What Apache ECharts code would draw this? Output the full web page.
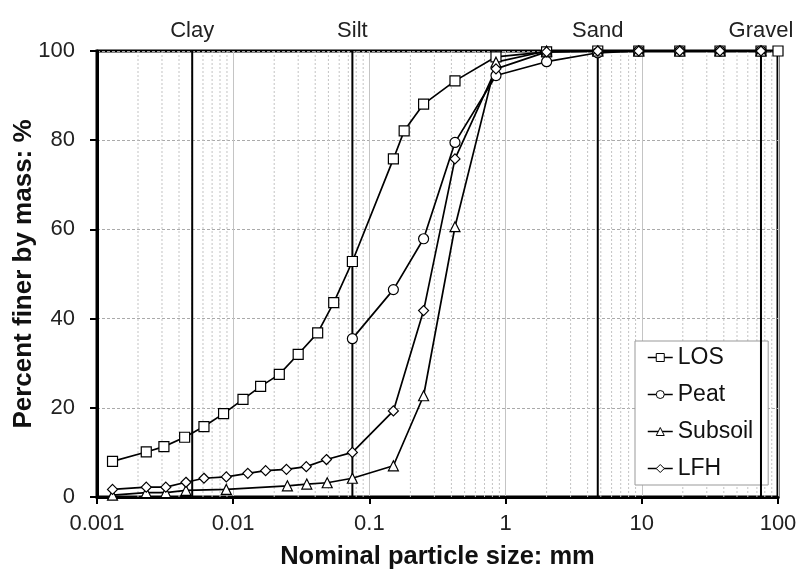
<!DOCTYPE html>
<html>
<head>
<meta charset="utf-8">
<script src="https://cdn.jsdelivr.net/npm/echarts@6/dist/echarts.min.js"></script>
<style>html,body{margin:0;padding:0;background:#fff}#c{width:799px;height:572px}</style>
</head>
<body>
<div id="c"></div>
<script>
// ---- data ----
const xTickLabels = ['0.001', '0.01', '0.1', '1', '10', '100'];
const yTickLabels = ['0', '20', '40', '60', '80', '100'];

const losSize = [0.0013, 0.0023, 0.0031, 0.0044, 0.0061, 0.0085, 0.0118, 0.0159, 0.0218, 0.030, 0.0417, 0.0547, 0.075, 0.15, 0.18, 0.25, 0.425, 0.85, 2, 4.75, 9.5, 19, 37.5, 75, 100];
const losPct  = [8.0, 10.1, 11.3, 13.4, 15.8, 18.7, 21.9, 24.8, 27.5, 32.0, 36.8, 43.6, 52.8, 75.8, 82.1, 88.1, 93.3, 98.7, 99.8, 100, 100, 100, 100, 100, 100];

const peatSize = [0.075, 0.15, 0.25, 0.425, 0.85, 2, 4.75, 9.5, 19, 37.5, 75];
const peatPct  = [35.5, 46.5, 57.9, 79.5, 94.5, 97.6, 99.6, 100, 100, 100, 100];

const subsoilSize = [0.0013, 0.0023, 0.0032, 0.0045, 0.0089, 0.025, 0.0347, 0.049, 0.075, 0.15, 0.25, 0.425, 0.85, 2, 4.75, 9.5, 19, 37.5, 75];
const subsoilPct  = [0.4, 1.0, 1.0, 1.5, 1.7, 2.5, 2.9, 3.2, 4.2, 7.0, 22.7, 60.6, 97.5, 100, 100, 100, 100, 100, 100];

const lfhSize = [0.0013, 0.0023, 0.0032, 0.0045, 0.0061, 0.0089, 0.0128, 0.0173, 0.0246, 0.0344, 0.0484, 0.075, 0.15, 0.25, 0.425, 0.85, 2, 4.75, 9.5, 19, 37.5, 75];
const lfhPct  = [1.7, 2.2, 2.2, 3.3, 4.2, 4.5, 5.3, 5.9, 6.2, 6.8, 8.4, 10.0, 19.3, 41.8, 75.8, 96.0, 99.8, 100, 100, 100, 100, 100];

const boundarySize = [0.005, 0.075, 4.75, 75];
const boundaryName = ['Clay', 'Silt', 'Sand', 'Gravel'];

const seriesNames = ['LOS', 'Peat', 'Subsoil', 'LFH'];
const seriesSymbols = ['rect', 'circle', 'triangle', 'diamond'];

// ---- build ----
const FONT = '"Liberation Sans", Arial, sans-serif';
const Y_MIN = 0, Y_MAX = 100;
const zip = (a, b) => a.map((v, i) => [v, b[i]]);
const dataSets = [zip(losSize, losPct), zip(peatSize, peatPct), zip(subsoilSize, subsoilPct), zip(lfhSize, lfhPct)];

// minor log grid positions (2..9 within each decade)
const minorX = [];
for (let e = -3; e < 2; e++) {
  for (let m = 2; m <= 9; m++) minorX.push([m * Math.pow(10, e), Y_MIN]);
}

const series = dataSets.map((d, i) => ({
  name: seriesNames[i],
  type: 'line',
  data: d,
  symbol: seriesSymbols[i],
  symbolSize: 10,
  showAllSymbol: true,
  z: 5,
  itemStyle: { color: '#fff', borderColor: '#000', borderWidth: 1.2 },
  lineStyle: { color: '#000', width: 1.7 },
  emphasis: { disabled: true },
  animation: false
}));

series.push({
  name: 'minorGrid', type: 'custom', silent: true, z: 1, animation: false,
  data: minorX,
  encode: { x: 0, y: 1 },
  renderItem: (params, api) => {
    const x = api.value(0);
    const p0 = api.coord([x, Y_MIN]);
    const p1 = api.coord([x, Y_MAX]);
    return {
      type: 'line',
      shape: { x1: p0[0], y1: p0[1], x2: p1[0], y2: p1[1] },
      style: { stroke: '#c4c4c4', lineWidth: 1, lineDash: [2, 2] }
    };
  }
});

series.push({
  name: 'bounds', type: 'custom', silent: true, z: 4, animation: false,
  data: boundarySize.map((v, i) => [v, Y_MIN, i]),
  encode: { x: 0, y: 1 },
  renderItem: (params, api) => {
    const x = api.value(0);
    const idx = api.value(2);
    const p0 = api.coord([x, Y_MIN]);
    const p1 = api.coord([x, Y_MAX]);
    return {
      type: 'group',
      children: [
        { type: 'line', shape: { x1: p0[0], y1: p0[1], x2: p1[0], y2: p1[1] },
          style: { stroke: '#000', lineWidth: 2 } },
        { type: 'text', x: p1[0], y: p1[1] - 9,
          style: { text: boundaryName[idx], x: 0, y: 0, align: 'center', verticalAlign: 'bottom',
                   font: '22px ' + FONT, fill: '#222' } }
      ]
    };
  }
});

const chart = echarts.init(document.getElementById('c'));
chart.setOption({
  animation: false,
  backgroundColor: '#fff',
  grid: { left: 97, right: 21, top: 51, bottom: 75, containLabel: false, outerBoundsMode: 'none',
          show: true, borderColor: '#000', borderWidth: 3, backgroundColor: 'transparent' },
  xAxis: {
    type: 'log', logBase: 10, min: 0.001, max: 100,
    name: 'Nominal particle size: mm', nameLocation: 'middle', nameGap: 47, nameMoveOverlap: false,
    nameTextStyle: { fontFamily: FONT, fontSize: 25.5, fontWeight: 'bold', color: '#111' },
    axisLine: { show: true, lineStyle: { color: '#000', width: 3 } },
    axisTick: { show: true, inside: false, length: 7, lineStyle: { color: '#000', width: 2 } },
    axisLabel: {
      fontFamily: FONT, fontSize: 22, color: '#222', margin: 16,
      formatter: v => xTickLabels[Math.round(Math.log10(v)) + 3]
    },
    splitLine: { show: true, lineStyle: { color: '#c4c4c4', width: 1 } },
    minorTick: { show: false }, minorSplitLine: { show: false }
  },
  yAxis: {
    type: 'value', min: Y_MIN, max: Y_MAX, interval: 20,
    name: 'Percent finer by mass: %', nameLocation: 'middle', nameGap: 60, nameMoveOverlap: false,
    nameTextStyle: { fontFamily: FONT, fontSize: 26, fontWeight: 'bold', color: '#111' },
    axisLine: { show: true, lineStyle: { color: '#000', width: 3 } },
    axisTick: { show: true, inside: false, length: 7, lineStyle: { color: '#000', width: 2 } },
    axisLabel: {
      fontFamily: FONT, fontSize: 22, color: '#222', margin: 22,
      formatter: v => yTickLabels[Math.round(v / 20)]
    },
    splitLine: { show: true, lineStyle: { color: '#aaa', width: 1, type: [3, 2] } }
  },
  legend: {
    data: seriesNames.map(n => ({ name: n })),
    orient: 'vertical', left: 635, top: 341,
    selectedMode: false,
    backgroundColor: '#fff', borderColor: '#999', borderWidth: 1,
    padding: [5, 15, 5, 12],
    itemWidth: 25, itemHeight: 10, itemGap: 14,
    textStyle: { fontFamily: FONT, fontSize: 23, color: '#111' },
    itemStyle: { color: '#fff', borderColor: '#000', borderWidth: 1 },
    lineStyle: { color: '#000', width: 1.5 }
  },
  series: series
});
</script>
</body>
</html>
